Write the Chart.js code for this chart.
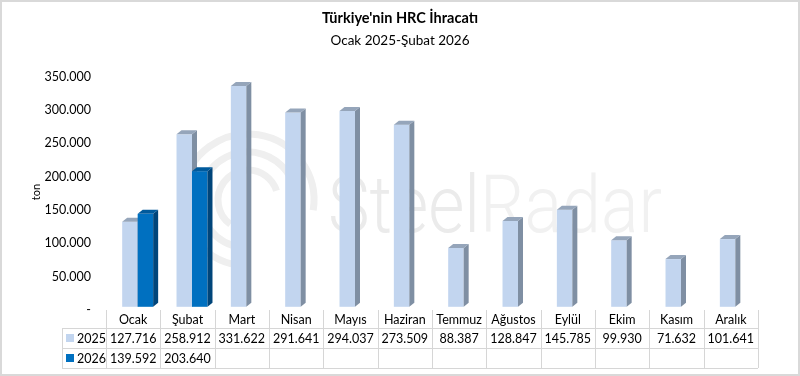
<!DOCTYPE html>
<html>
<head>
<meta charset="utf-8">
<script src="https://cdn.jsdelivr.net/npm/chart.js@4/dist/chart.umd.min.js"></script>
<style>
  html, body { margin: 0; padding: 0; background: #fff; }
  #wrap { width: 800px; height: 376px; position: relative; }
</style>
</head>
<body>
<div id="wrap"><canvas id="myChart" width="800" height="376"></canvas></div>
<script>
// data
const months = ['Ocak', 'Şubat', 'Mart', 'Nisan', 'Mayıs', 'Haziran', 'Temmuz', 'Ağustos', 'Eylül', 'Ekim', 'Kasım', 'Aralık'];
const seriesNames = ['2025', '2026'];
const values2025 = [127716, 258912, 331622, 291641, 294037, 273509, 88387, 128847, 145785, 99930, 71632, 101641];
const values2026 = [139592, 203640, null, null, null, null, null, null, null, null, null, null];
const yTicks = [0, 50000, 100000, 150000, 200000, 250000, 300000, 350000];

const FONT = 'Lato, "Noto Sans", sans-serif';

// face colours: front, side, top
const faces = [
    { front: '#c2d5ef', side: '#7f8fa3', top: '#95a5ba' },
    { front: '#0070c0', side: '#00457a', top: '#005a9c' }
];
const DX = 5, DY = 4;

const fmt = (v) => v === 0 ? '-' : v.toLocaleString('de-DE');

const ctx = document.getElementById('myChart').getContext('2d');

// watermark behind the bars
const watermark = {
    id: 'watermark',
    beforeDatasetsDraw(chart) {
        const c = chart.ctx;
        c.save();
        c.strokeStyle = '#efefef';
        c.lineWidth = 7;
        c.beginPath(); c.arc(248, 200, 66, 0.55 * Math.PI, 2.05 * Math.PI); c.stroke();
        c.beginPath(); c.arc(248, 200, 48, 0.6 * Math.PI, 2.0 * Math.PI); c.stroke();
        c.beginPath(); c.arc(248, 200, 30, 0.7 * Math.PI, 1.9 * Math.PI); c.stroke();
        c.font = '300 80px Roboto, sans-serif';
        c.textBaseline = 'alphabetic';
        c.textAlign = 'left';
        const w = c.measureText('SteelRadar').width;
        c.translate(328, 232);
        c.scale(334 / w, 1);
        c.fillStyle = '#ebebeb';
        c.fillText('Steel', 0, 0);
        const ws = c.measureText('Steel').width;
        c.fillStyle = '#f1f1f1';
        c.fillText('Radar', ws, 0);
        c.restore();
    }
};

// 3d-looking columns, drawn series by series so the right bar covers the left side face
const bars3d = {
    id: 'bars3d',
    afterDatasetsDraw(chart) {
        const c = chart.ctx;
        c.save();
        chart.data.datasets.forEach((ds, di) => {
            const meta = chart.getDatasetMeta(di);
            const col = faces[di];
            meta.data.forEach((bar, i) => {
                if (ds.data[i] == null) return;
                const p = bar.getProps(['x', 'y', 'base', 'width'], true);
                const l = p.x - p.width / 2, r = p.x + p.width / 2;
                c.fillStyle = col.front;
                c.fillRect(l, p.y, r - l, p.base - p.y);
                c.fillStyle = col.side;
                c.beginPath();
                c.moveTo(r, p.y); c.lineTo(r + DX, p.y - DY);
                c.lineTo(r + DX, p.base - DY); c.lineTo(r, p.base);
                c.closePath(); c.fill();
                c.fillStyle = col.top;
                c.beginPath();
                c.moveTo(l, p.y); c.lineTo(l + DX, p.y - DY);
                c.lineTo(r + DX, p.y - DY); c.lineTo(r, p.y);
                c.closePath(); c.fill();
            });
        });
        c.restore();
    }
};

// titles, axis name, data table and frame
const decor = {
    id: 'decor',
    afterDraw(chart) {
        const c = chart.ctx;
        const xs = chart.scales.x;
        c.save();
        c.fillStyle = '#000';
        c.textAlign = 'center';
        c.textBaseline = 'middle';
        c.font = 'bold 14.5px ' + FONT;
        c.fillText("Türkiye'nin HRC İhracatı", 400, 18);
        c.font = '13.5px ' + FONT;
        c.fillText('Ocak 2025-Şubat 2026', 400, 41);

        c.save();
        c.translate(36, 192);
        c.rotate(-Math.PI / 2);
        c.font = '11px ' + FONT;
        c.fillText('ton', 0, 0);
        c.restore();

        // table geometry follows the category scale
        const cw = xs.getPixelForValue(1) - xs.getPixelForValue(0);
        const shift = 4.5;
        const colL = (i) => xs.getPixelForValue(i) - cw / 2 - shift;
        const x0 = 62, x1 = colL(0), xEnd = colL(months.length - 1) + cw;
        const yTop = 310, r1 = 328, r2 = 348, r3 = 368;

        c.strokeStyle = '#d6d6d6';
        c.lineWidth = 1;
        c.beginPath();
        [r1, r2, r3].forEach((y) => { c.moveTo(x0, y + 0.5); c.lineTo(xEnd, y + 0.5); });
        c.moveTo(x0 + 0.5, r1); c.lineTo(x0 + 0.5, r3);
        for (let i = 0; i <= months.length; i++) {
            const x = Math.round(x1 + i * cw) + 0.5;
            c.moveTo(x, yTop); c.lineTo(x, r3);
        }
        c.stroke();

        c.font = '12.5px ' + FONT;
        c.fillStyle = '#000';
        months.forEach((m, i) => {
            const cx = colL(i) + cw / 2;
            c.fillText(m, cx, (yTop + r1) / 2 + 1);
            c.fillText(fmt(values2025[i]), cx, (r1 + r2) / 2 + 1);
            if (values2026[i] != null) c.fillText(fmt(values2026[i]), cx, (r2 + r3) / 2 + 1);
        });
        // legend keys
        [[values2025, r1, r2], [values2026, r2, r3]].forEach((row, k) => {
            const cy = (row[1] + row[2]) / 2;
            c.fillStyle = faces[k].front;
            c.fillRect(66, cy - 4, 8, 8);
            c.fillStyle = '#000';
            c.textAlign = 'left';
            c.fillText(seriesNames[k], 77, cy + 1);
            c.textAlign = 'center';
        });

        c.strokeStyle = '#d9d9d9';
        c.lineWidth = 2;
        c.strokeRect(1, 1, 798, 374);
        c.restore();
    }
};

const config = {
    type: 'bar',
    data: {
        labels: months,
        datasets: [
            { label: seriesNames[0], data: values2025, backgroundColor: 'rgba(0,0,0,0)' },
            { label: seriesNames[1], data: values2026, backgroundColor: 'rgba(0,0,0,0)' }
        ]
    },
    options: {
        responsive: false,
        animation: false,
        layout: { padding: { top: 73.7, bottom: 69.2, left: 0, right: 37.5 } },
        plugins: { legend: { display: false }, title: { display: false }, tooltip: { enabled: false } },
        datasets: { bar: { categoryPercentage: 0.57, barPercentage: 1 } },
        scales: {
            x: {
                display: false,
                grid: { display: false }
            },
            y: {
                min: 0,
                max: 350000,
                afterFit: (s) => { s.width = 110.5; },
                afterBuildTicks: (s) => { s.ticks = yTicks.map((v) => ({ value: v })); },
                border: { display: false },
                grid: { display: false, drawTicks: false },
                ticks: {
                    padding: 19.5,
                    labelOffset: 3,
                    color: '#000',
                    font: { family: FONT, size: 12.5 },
                    callback: (v) => fmt(v)
                }
            }
        }
    },
    plugins: [watermark, bars3d, decor]
};

const chart = new Chart(ctx, config);
</script>
</body>
</html>
